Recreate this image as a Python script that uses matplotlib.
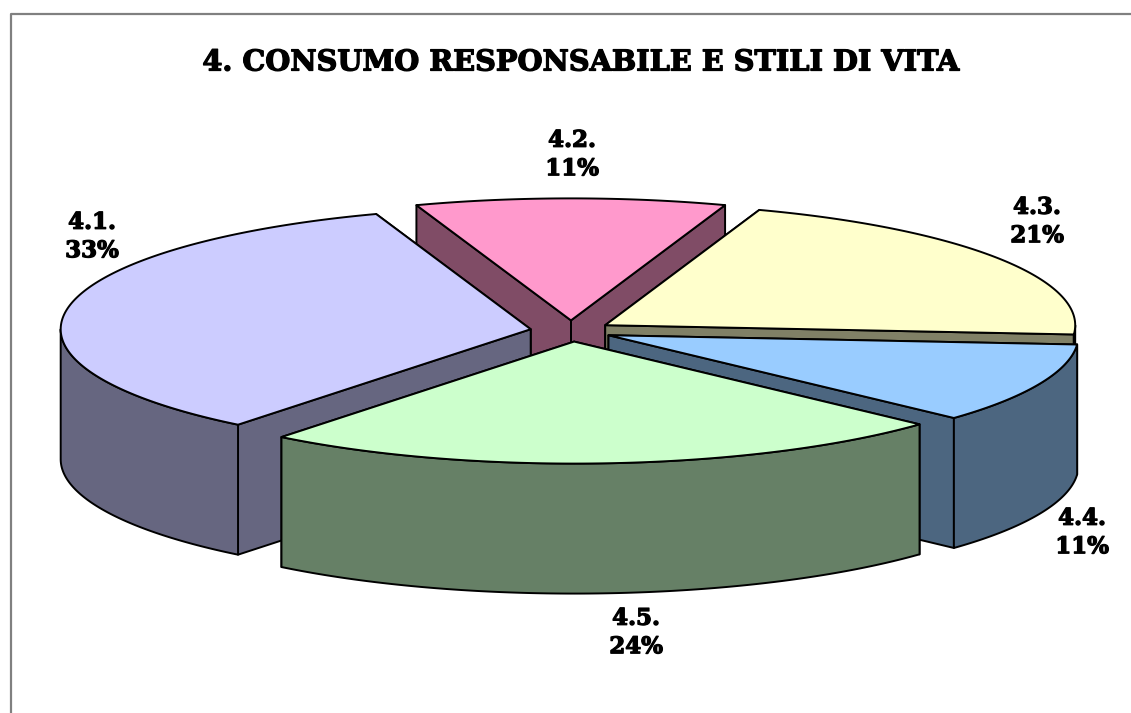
import numpy as np
import matplotlib
matplotlib.use("Agg")
import matplotlib.pyplot as plt
import matplotlib.patheffects as pe
from matplotlib.patches import Polygon

# datos (orden de dibujo: de atras hacia adelante)
categorias = ["4.2.", "4.1.", "4.3.", "4.4.", "4.5."]
valores = [10.5, 33.49, 20.6, 10.5, 23.5]
etiquetas = ["11%", "33%", "21%", "11%", "24%"]
col_arriba = ["#FF99CC", "#CCCCFF", "#FFFFCC", "#99CCFF", "#CCFFCC"]
col_lado = ["#804C66", "#666680", "#808066", "#4C6680", "#668066"]
pos_etiquetas = [(572, 155), (92, 237), (1037, 222), (1082, 533), (636, 633)]

# geometria del pastel
cx, cy = 571, 331
rx, ry = 470, 122
alto = 130
explode = 0.087
inicio = -19.2

# angulos en sentido horario desde arriba
orden = ["4.2.", "4.3.", "4.4.", "4.5.", "4.1."]
total = sum(valores)
angulos = {}
a = inicio
for c in orden:
    v = valores[categorias.index(c)]
    angulos[c] = (a, a + v / total * 360)
    a += v / total * 360


def punto(t, ox, oy):
    t = np.radians(t)
    return ox + rx * np.sin(t), oy - ry * np.cos(t)


def arco(t1, t2, ox, oy):
    ts = np.linspace(t1, t2, 150)
    x, y = punto(ts, ox, oy)
    return np.column_stack([x, y])


fig = plt.figure(figsize=(11.31, 7.13), dpi=100)
ax = fig.add_axes([0, 0, 1, 1])
ax.set_xlim(0, 1131)
ax.set_ylim(713, 0)
ax.axis("off")

# marco (solo izquierda y arriba)
ax.plot([10.5, 10.5, 1131], [713, 13.5, 13.5], color="#808080", lw=1.6, zorder=1)

grueso = [pe.withStroke(linewidth=0.9, foreground="black")]

z = 2
for i, c in enumerate(categorias):
    t1, t2 = angulos[c]
    med = (t1 + t2) / 2
    ox = cx + rx * explode * np.sin(np.radians(med))
    oy = cy - ry * explode * np.cos(np.radians(med))
    p1 = punto(t1, ox, oy)
    p2 = punto(t2, ox, oy)

    estilo = dict(edgecolor="black", linewidth=1.4, joinstyle="round")

    # caras de corte, primero la de mas atras
    for p in sorted((p1, p2), key=lambda q: q[1]):
        cara = [(ox, oy), p, (p[0], p[1] + alto), (ox, oy + alto)]
        ax.add_patch(Polygon(cara, facecolor=col_lado[i], zorder=z, **estilo))
        z += 1

    # pared curva, solo la parte de adelante
    b1, b2 = max(t1, 90), min(t2, 270)
    if b2 > b1:
        sup = arco(b1, b2, ox, oy)
        inf = sup[::-1] + [0, alto]
        ax.add_patch(Polygon(np.vstack([sup, inf]), facecolor=col_lado[i], zorder=z, **estilo))
    z += 1

    # tapa
    tapa = np.vstack([[(ox, oy)], arco(t1, t2, ox, oy)])
    ax.add_patch(Polygon(tapa, facecolor=col_arriba[i], zorder=z, **estilo))
    z += 1

    px, py = pos_etiquetas[i]
    ax.text(px, py, c + "\n" + etiquetas[i], ha="center", va="center", fontsize=16.5,
            family="DejaVu Serif", weight="bold", linespacing=1.38, zorder=50,
            path_effects=grueso)

ax.text(581, 62, "4. CONSUMO RESPONSABILE E STILI DI VITA", ha="center", va="center",
        fontsize=20.7, family="DejaVu Serif", weight="bold", color="black", path_effects=grueso)

fig.savefig("out.png", dpi=100)
